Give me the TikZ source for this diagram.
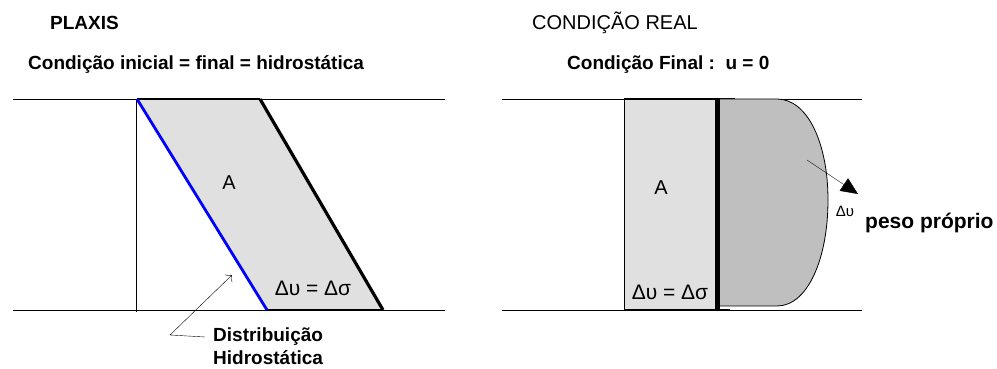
\documentclass[tikz,border=0pt]{standalone}
\usepackage{fontspec}
\setmainfont{Liberation Sans}
\usetikzlibrary{arrows.meta}

\begin{document}
\begin{tikzpicture}[x=1pt,y=1pt,
  title/.style={anchor=west, inner sep=0pt, font=\fontsize{19}{21}\selectfont\bfseries},
  label/.style={inner sep=0pt, font=\fontsize{20}{22}\selectfont},
  greek/.style={inner sep=0pt, font=\fontsize{21}{23}\selectfont}]

\definecolor{mygray}{rgb}{0.88, 0.88, 0.88}
\definecolor{mydark}{rgb}{0.75, 0.75, 0.75}
\definecolor{myblue}{rgb}{0.00, 0.00, 1.00}

\useasboundingbox (0,0) rectangle (997,369);

\def\ytop{270}
\def\ybot{59}

% PLAXIS
\fill[mygray] (137,\ytop) -- (260,\ytop) -- (383,\ybot) -- (267,\ybot) -- cycle;
\draw (13,\ytop) -- (445,\ytop);
\draw (13,\ybot) -- (445,\ybot);
\draw (136,\ytop) -- (136,57);
\draw[black, line width=1.6pt] (137,\ytop) -- (260,\ytop);
\draw[black, line width=1.6pt] (267,\ybot) -- (383,\ybot);
\draw[black, line width=3.2pt] (260,\ytop) -- (383,\ybot);
\draw[myblue, line width=2.8pt] (137,\ytop) -- (267,\ybot);

\node[title] (plaxis) at (50,346) {PLAXIS};
\node[title] (condini) at (28,304) {Condição inicial = final = hidrostática};
\node[label] (areaA) at (229,186) {A};
\node[greek] (deltaA) at (313,81) {Δυ = Δσ};

\node[title] (lbldist) at (213,32) {Distribuição};
\node[title] (lblhidro) at (213,11) {Hidrostática};
\coordinate (hydrobend) at (170,34);
\coordinate (hydrotip) at (232,94);
\draw[-{To[length=5pt]}] ([xshift=-8pt]lbldist.west) -- (hydrobend) -- (hydrotip);

% CONDICAO REAL
\draw (502,\ytop) -- (862,\ytop);
\draw (502,\ybot) -- (862,\ybot);
\draw[fill=mygray] (624,\ybot) rectangle (715,\ytop);
\draw[line width=1.4pt] (624,\ytop) -- (735,\ytop);
\draw[line width=1.4pt] (624,\ybot) -- (730,\ybot);
\draw[fill=mydark, thick] (719,\ytop) -- (777,\ytop)
  .. controls (808,\ytop) and (828,225) .. (828,169)
  .. controls (828,111) and (808,63) .. (777,63) -- (719,63);
\draw[line width=4.6pt] (717.5,\ytop) -- (717.5,\ybot);

\node[title, font=\fontsize{20}{22}\selectfont] (real) at (532,346) {CONDIÇÃO REAL};
\node[title] (condfin) at (567,304) {Condição Final :\ \ u = 0};
\node[label] (realA) at (661,181) {A};
\node[greek] (realdelta) at (670,77) {Δυ = Δσ};

\node[greek, font=\fontsize{15}{17}\selectfont] (deltapeso) at (845,158) {Δυ};
\node[title, font=\fontsize{21}{23}\selectfont\bfseries] (peso) at (865,146) {peso próprio};
\coordinate (pesostart) at (807,209);
\coordinate (pesotip) at (858,175);
\draw[-{Triangle[length=17pt,width=15pt]}] (pesostart) -- (pesotip);

\end{tikzpicture}
\end{document}
